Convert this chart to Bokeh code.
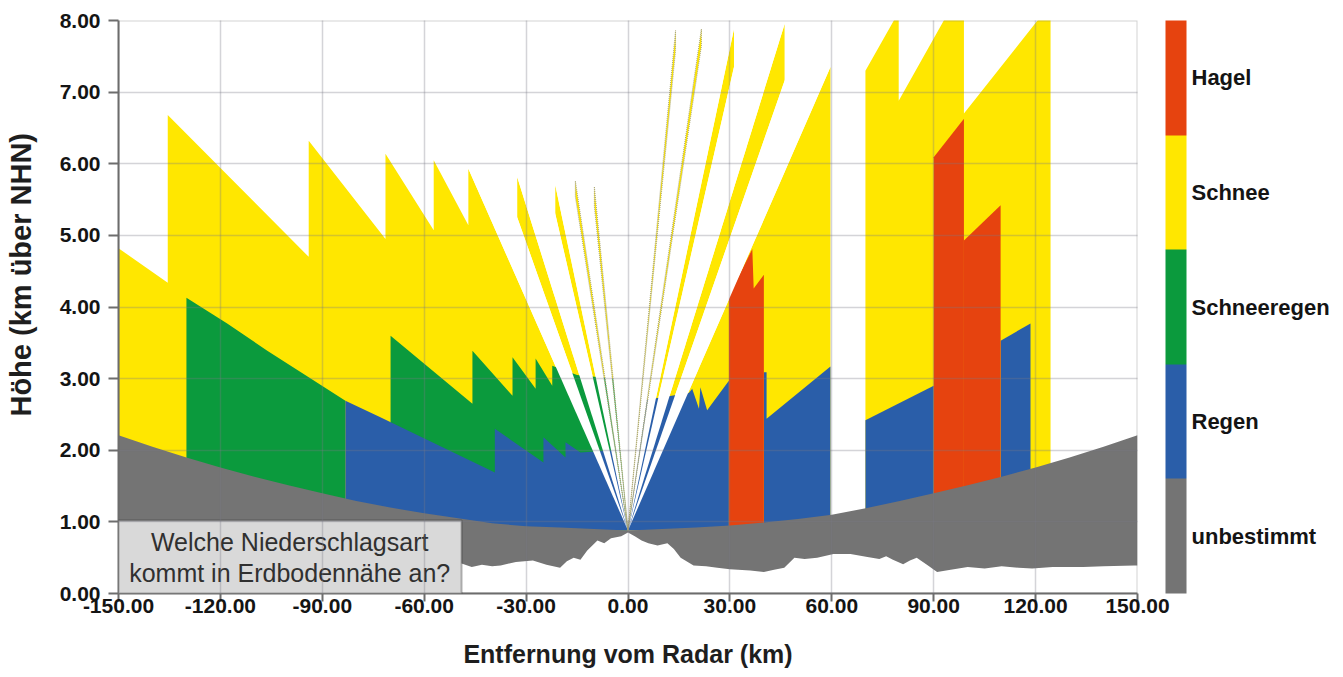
import math
from bokeh.plotting import figure
from bokeh.models import (Range1d, FixedTicker, PrintfTickFormatter, ColorBar,
                          LinearColorMapper, Label, BoxAnnotation)
from bokeh.embed import file_html
from bokeh.resources import INLINE

# ---------------- data ----------------
class_names = ["unbestimmt", "Regen", "Schneeregen", "Schnee", "Hagel"]
class_colors = ["#747474", "#2a5ea9", "#0b9a3d", "#ffe700", "#e6430f"]

x_ticks = [-150, -120, -90, -60, -30, 0, 30, 60, 90, 120, 150]
y_ticks = [0, 1, 2, 3, 4, 5, 6, 7, 8]

radar_x = 0.0
radar_h = 0.88

# lower edge of the lowest radar beam (top of the "unbestimmt" band)
beam_bottom_x = [-150, -140, -130, -120, -110, -100, -90, -80, -70, -60, -50, -40, -30, -20, -10,
                 0, 10, 20, 30, 40, 50, 60, 70, 80, 90, 100, 110, 120, 130, 140, 150]
beam_bottom_y = [2.21, 2.05, 1.90, 1.76, 1.63, 1.51, 1.40, 1.29, 1.20, 1.12, 1.05, 0.98, 0.94, 0.92, 0.90,
                 0.88, 0.90, 0.92, 0.95, 0.99, 1.04, 1.10, 1.19, 1.29, 1.40, 1.51, 1.63, 1.76, 1.90, 2.05, 2.21]

# terrain profile
terrain_x = [-150, -140, -130, -120, -110, -100, -90, -80, -70, -60, -52, -49, -46, -43, -40, -37.5,
             -33, -28, -24, -20, -18, -16, -14, -12, -9, -7, -5, -2, 0, 2, 4, 6, 8.7, 11.6, 13.5,
             15.5, 19.3, 23, 26.3, 30, 36, 40, 43, 46, 49, 52, 55.7, 60.5, 65.5, 70.5, 74, 76, 78,
             81, 83, 85, 88, 91, 95, 100, 105, 110, 115, 119, 125, 134, 140, 149, 150]
terrain_y = [0.40, 0.42, 0.40, 0.43, 0.40, 0.42, 0.40, 0.42, 0.40, 0.44, 0.40, 0.42, 0.37, 0.40, 0.38, 0.39,
             0.44, 0.46, 0.40, 0.36, 0.45, 0.50, 0.47, 0.60, 0.74, 0.70, 0.77, 0.80, 0.85, 0.80, 0.74, 0.70, 0.67, 0.70, 0.62,
             0.50, 0.39, 0.38, 0.36, 0.34, 0.32, 0.30, 0.33, 0.36, 0.50, 0.48, 0.50, 0.55, 0.55, 0.51, 0.48, 0.52, 0.47,
             0.41, 0.46, 0.50, 0.40, 0.30, 0.33, 0.37, 0.35, 0.38, 0.36, 0.35, 0.37, 0.37, 0.38, 0.39, 0.39]

# Schnee regions
schnee_x = [
    [0, -150, -150, -135.5, -135.5, -94, -94, -71.4, -71.4, -57.2, -57.2, -47, -47],
    [0, 59.6, 59.6],
    [69.9, 69.9, 79.7, 79.7, 98.9, 98.9, 124.4, 124.4],
]
schnee_y = [
    [0.88, 0.88, 4.82, 4.34, 6.68, 4.70, 6.32, 4.95, 6.14, 5.07, 6.05, 5.14, 5.93],
    [0.88, 7.35, 0.88],
    [0.88, 7.30, 8.12, 6.88, 8.50, 6.70, 8.23, 0.88],
]

# single elevation beams reaching out of the radar (range end, lower/upper height there)
beam_end_x = [-32.6, -21.4, -15.5, -9.9, 14.0, 21.6, 31.2, 46.1]
beam_low_y = [5.25, 5.30, 5.54, 5.40, 7.58, 7.64, 7.35, 7.16]
beam_high_y = [5.81, 5.70, 5.76, 5.68, 7.86, 7.88, 7.88, 7.95]
beam_thin = [False, False, True, True, True, True, False, False]

# Schneeregen regions
schneeregen_x = [
    [-130, -130, -118, -106.2, -94, -83.2, -83.2],
    [-69.9, -69.9, -45.8, -45.8, -34.0, -34.0, -27.2, -27.2, -22.3, -22.3, -15, -4, 0],
]
schneeregen_y = [
    [0.88, 4.13, 3.77, 3.39, 3.02, 2.69, 0.88],
    [0.88, 3.60, 2.65, 3.39, 2.76, 3.30, 2.86, 3.28, 2.90, 3.18, 3.05, 3.00, 0.88],
]

# Regen regions
regen_x = [
    [-83.2, -83.2, -72.9, -39.2, -39.2, -24.9, -24.9, -18.4, -18.4, -14, -4, 0],
    [0, 5, 17.9, 18.9, 20.9, 21.3, 23.3, 29.7, 29.7],
    [40.0, 40.0, 40.8, 40.8, 59.6, 59.6],
    [69.9, 69.9, 90.0, 90.0],
    [109.7, 109.7, 118.5, 118.5],
]
regen_y = [
    [0.88, 2.69, 2.46, 1.69, 2.30, 1.83, 2.18, 1.90, 2.11, 1.97, 2.00, 0.88],
    [0.88, 2.70, 2.80, 2.86, 2.58, 2.88, 2.56, 2.97, 0.88],
    [0.88, 3.09, 3.09, 2.44, 3.17, 0.88],
    [0.88, 2.42, 2.90, 0.88],
    [0.88, 3.53, 3.77, 0.88],
]

# Hagel regions
hagel_x = [
    [29.7, 29.7, 36.6, 37.0, 40.0, 40.0],
    [90.0, 90.0, 98.9, 98.9],
    [98.9, 98.9, 109.7, 109.7],
]
hagel_y = [
    [0.88, 4.15, 4.81, 4.26, 4.45, 0.88],
    [0.88, 6.09, 6.63, 0.88],
    [0.88, 4.93, 5.42, 0.88],
]

question_lines = ["Welche Niederschlagsart", "kommt in Erdbodennähe an?"]
x_title = "Entfernung vom Radar (km)"
y_title = "Höhe (km über NHN)"

# ---------------- derived geometry ----------------
FONT = "Liberation Sans"
col = dict(zip(class_names, class_colors))
x_lo, x_hi = x_ticks[0], x_ticks[-1]
y_lo, y_hi = y_ticks[0], y_ticks[-1]

beam_xs = [[radar_x, xe, xe] for xe in beam_end_x]
beam_ys = [[radar_h, yl, yh] for yl, yh in zip(beam_low_y, beam_high_y)]


def ang(x, y):
    return math.atan2(y - radar_h, x - radar_x)


sectors = [(ang(schnee_x[0][-1], schnee_y[0][-1]), math.pi),
           (0.0, ang(schnee_x[1][1], schnee_y[1][1]))]
for xe, yl, yh in zip(beam_end_x, beam_low_y, beam_high_y):
    a1, a2 = sorted((ang(xe, yl), ang(xe, yh)))
    sectors.append((a1, a2))
sectors.sort()
gap_xs, gap_ys = [], []
for (a0, a1), (b0, b1) in zip(sectors[:-1], sectors[1:]):
    if b0 > a1:
        px = []
        for a in (a1, b0):
            t = (y_hi - radar_h) / math.sin(a)
            px.append(radar_x + t * math.cos(a))
        gap_xs.append([radar_x, px[0], px[1]])
        gap_ys.append([radar_h, y_hi, y_hi])

# ---------------- figure ----------------
p = figure(frame_width=1019, frame_height=573,
           x_range=Range1d(x_lo, x_hi), y_range=Range1d(y_lo, y_hi),
           output_backend="svg", toolbar_location=None,
           min_border_left=118, min_border_right=190, min_border_top=20, min_border_bottom=84,
           background_fill_color="white", border_fill_color="white")
p.outline_line_color = None

p.patches(schnee_x + beam_xs, schnee_y + beam_ys, fill_color=col["Schnee"], line_color=None)
p.patches(schneeregen_x, schneeregen_y, fill_color=col["Schneeregen"], line_color=None)
p.patches(regen_x, regen_y, fill_color=col["Regen"], line_color=None)
p.patches(hagel_x, hagel_y, fill_color=col["Hagel"], line_color=None)
p.patches(gap_xs, gap_ys, fill_color="white", line_color=None)

thin_xs = [bx for bx, t in zip(beam_xs, beam_thin) if t]
thin_ys = [by for by, t in zip(beam_ys, beam_thin) if t]
p.patches(thin_xs, thin_ys, fill_alpha=0, line_color="#a8a472", line_width=1.0, line_dash="1 1")

band_x = terrain_x + beam_bottom_x[::-1]
band_y = terrain_y + beam_bottom_y[::-1]
p.patch(band_x, band_y, fill_color=col["unbestimmt"], line_color=None)

# grid drawn over the areas, faint
p.xgrid.ticker = FixedTicker(ticks=x_ticks)
p.ygrid.ticker = FixedTicker(ticks=y_ticks)
p.grid.level = "overlay"
p.grid.grid_line_color = "#7a7a85"
p.grid.grid_line_alpha = 0.32
p.grid.grid_line_width = 1.5

# axes
p.xaxis.ticker = FixedTicker(ticks=x_ticks)
p.yaxis.ticker = FixedTicker(ticks=y_ticks)
for ax in (p.xaxis[0], p.yaxis[0]):
    ax.formatter = PrintfTickFormatter(format="%.2f")
    ax.axis_line_color = "#6d6d6d"
    ax.axis_line_width = 2
    ax.major_tick_line_color = "#6d6d6d"
    ax.major_tick_line_width = 2
    ax.major_tick_in = 0
    ax.minor_tick_line_color = None
    ax.major_label_text_font = FONT
    ax.major_label_text_font_style = "bold"
    ax.major_label_text_font_size = "21px"
    ax.major_label_text_color = "#141414"
    ax.axis_label_text_font = FONT
    ax.axis_label_text_font_style = "bold"
    ax.axis_label_text_color = "#1e1e1e"
p.xaxis.major_tick_out = 8
p.xaxis.major_label_standoff = -3
p.xaxis.axis_label = x_title
p.xaxis.axis_label_text_font_size = "25px"
p.xaxis.axis_label_standoff = 24
p.yaxis.major_tick_out = 10
p.yaxis.major_label_standoff = 8
# leading no-break spaces lift the title a little above the frame centre, as in the reference
p.yaxis.axis_label = "\u00a0" * 8 + y_title
p.yaxis.axis_label_text_font_size = "29px"
p.yaxis.axis_label_standoff = 20

# frame border on top of everything
p.add_layout(BoxAnnotation(left=x_lo, right=x_hi, bottom=y_lo, top=y_hi, fill_alpha=0,
                           line_color="#6d6d6d", line_width=2))

# legend as colour bar
mapper = LinearColorMapper(palette=class_colors, low=-0.5, high=len(class_names) - 0.5)
cb = ColorBar(color_mapper=mapper,
              ticker=FixedTicker(ticks=list(range(len(class_names)))),
              major_label_overrides={i: n for i, n in enumerate(class_names)},
              width=21, height=573, padding=0, margin=0, location=(28, 0),
              label_standoff=5, major_tick_line_color=None, bar_line_color=None,
              border_line_color=None, background_fill_color=None,
              major_label_text_font=FONT, major_label_text_font_style="bold",
              major_label_text_font_size="22px", major_label_text_color="#141414")
p.add_layout(cb, "right")

# question box
box = BoxAnnotation(left=x_lo, right=-49.0, bottom=y_lo, top=1.02,
                    fill_color="#d9d9d9", fill_alpha=1.0, line_color="#1a1a1a", line_width=2)
p.add_layout(box)
for txt, yy in zip(question_lines, [0.726, 0.29]):
    p.add_layout(Label(x=-99.6, y=yy, text=txt, text_align="center", text_baseline="middle",
                       text_font=FONT, text_font_size="25px", text_color="#303030"))

open("out.html", "w").write(file_html(p, INLINE))
